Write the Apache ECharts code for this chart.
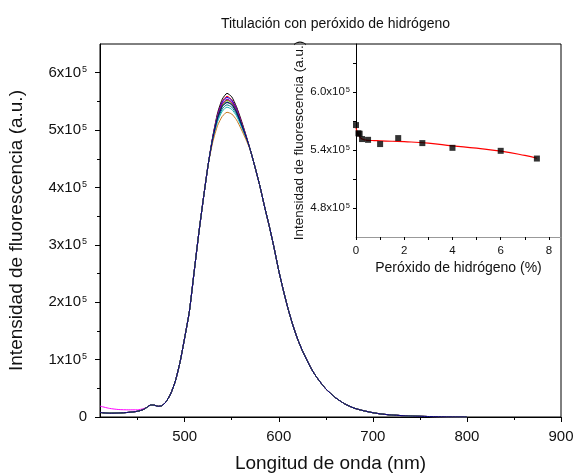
<!DOCTYPE html>
<html>
<head>
<meta charset="utf-8">
<script src="https://cdn.jsdelivr.net/npm/echarts@6/dist/echarts.min.js"></script>
<style>html,body{margin:0;padding:0;background:#fff}#c{width:575px;height:474px}</style>
</head>
<body>
<div id="c"></div>
<script>
// ---- Main spectra (intensity in units of 10^5) ----
const wavelengths = [410,420,430,440,450,456,460,464,468,472,476,480,485,490,495,500,505,510,515,520,525,
  530,535,540,545,550,555,560,565,
  570,575,580,585,590,595,600,605,610,615,620,625,630,635,640,645,650,660,670,680,690,700,710,720,730,740,750,760,780,800];
const leftCommon  = [0.08,0.065,0.07,0.08,0.10,0.13,0.17,0.21,0.205,0.185,0.20,0.26,0.40,0.62,0.95,1.38,1.84,2.52,3.20,3.82,4.40];
const leftMagenta = [0.19,0.15,0.13,0.125,0.125,0.145,0.17,0.215,0.205,0.19,0.20,0.26,0.40,0.62,0.95,1.38,1.84,2.52,3.20,3.82,4.40];
const rightCommon = [4.64,4.34,4.02,3.66,3.32,2.95,2.55,2.20,1.88,1.60,1.36,1.16,0.99,0.83,0.70,0.59,0.49,0.34,0.23,0.155,0.11,0.075,0.05,0.035,0.025,0.017,0.012,0.008,0.004,0.002];
// peak region 530..565 nm, one per spectrum
const peakBlack   = [4.90,5.30,5.54,5.64,5.58,5.41,5.18,4.92];
const peakRed     = [4.89,5.27,5.50,5.59,5.53,5.38,5.16,4.91];
const peakBlue    = [4.89,5.26,5.49,5.57,5.52,5.37,5.15,4.91];
const peakMagenta = [4.88,5.24,5.45,5.53,5.48,5.34,5.13,4.90];
const peakOlive   = [4.87,5.23,5.44,5.52,5.47,5.33,5.13,4.90];
const peakNavy    = [4.86,5.21,5.41,5.48,5.44,5.31,5.11,4.89];
const peakPurple  = [4.88,5.24,5.46,5.54,5.49,5.35,5.14,4.90];
const peakGreen   = [4.87,5.22,5.42,5.49,5.45,5.32,5.12,4.89];
const peakDkCyan  = [4.85,5.18,5.37,5.44,5.40,5.28,5.09,4.88];
const peakCyan    = [4.84,5.15,5.33,5.40,5.36,5.25,5.07,4.87];
const peakOrange  = [4.80,5.08,5.24,5.31,5.28,5.18,5.02,4.84];

const spectra = [
  {color:'#000000', left:leftCommon,  peak:peakBlack},
  {color:'#FF0000', left:leftCommon,  peak:peakRed},
  {color:'#0000FF', left:leftCommon,  peak:peakBlue},
  {color:'#FF00FF', left:leftMagenta, peak:peakMagenta},
  {color:'#808000', left:leftCommon,  peak:peakOlive},
  {color:'#800080', left:leftCommon,  peak:peakPurple},
  {color:'#008000', left:leftCommon,  peak:peakGreen},
  {color:'#008080', left:leftCommon,  peak:peakDkCyan},
  {color:'#20B2B2', left:leftCommon,  peak:peakCyan},
  {color:'#C8781E', left:leftCommon,  peak:peakOrange},
  {color:'#000080', left:leftCommon,  peak:peakNavy}
];

// ---- Inset: peak intensity vs H2O2 (%) ----
const h2o2Pct   = [0, 0.1, 0.15, 0.25, 0.5, 1, 1.75, 2.75, 4, 6, 7.5];
const peakInt   = [5.66, 5.575, 5.57, 5.515, 5.507, 5.463, 5.525, 5.473, 5.424, 5.393, 5.313];
const fitX      = [0, 0.05, 0.1, 0.15, 0.2, 0.3, 0.4, 0.5, 0.75, 1, 1.5, 2, 3, 4, 5, 6, 7, 7.5];
const fitY      = [5.63, 5.59, 5.56, 5.54, 5.525, 5.51, 5.505, 5.502, 5.499, 5.497, 5.492, 5.488, 5.472, 5.445, 5.42, 5.39, 5.345, 5.316];

// ---- Ticks ----
const mainXTicks  = [500,600,700,800,900];
const mainXMinor  = [450,550,650,750,850];
const mainYTicks  = [0,1,2,3,4,5,6];
const mainYMinor  = [0.5,1.5,2.5,3.5,4.5,5.5];
const insetXTicks = [0,2,4,6,8];
const insetXMinor = [1,3,5,7];
const insetYLabels = [4.8,5.4,6.0];
const insetYTicks  = [4.8,5.1,5.4,5.7,6.0,6.3];

const FONT = '"Liberation Sans", Arial, sans-serif';
const TXT = '#111';

function sup(size, supSize) {
  return {
    b: {fontSize: size, fontFamily: FONT, color: TXT},
    s: {fontSize: supSize, fontFamily: FONT, color: TXT, verticalAlign: 'top', padding: [0,0,0,1]}
  };
}

const chart = echarts.init(document.getElementById('c'), null, {renderer: 'canvas'});

const series = spectra.map(s => {
  const vals = s.left.concat(s.peak, rightCommon);
  return {
    type: 'line',
    xAxisIndex: 0, yAxisIndex: 0,
    showSymbol: false,
    smooth: 0.2,
    lineStyle: {width: 1, color: s.color},
    itemStyle: {color: s.color},
    data: wavelengths.map((w, i) => [w, vals[i]])
  };
});

series.push({
  type: 'line', xAxisIndex: 2, yAxisIndex: 2,
  showSymbol: false, smooth: true,
  lineStyle: {width: 1.2, color: '#FF0000'},
  data: fitX.map((x, i) => [x, fitY[i]]),
  z: 3
});
series.push({
  type: 'scatter', xAxisIndex: 2, yAxisIndex: 2,
  symbol: 'rect', symbolSize: 6,
  itemStyle: {color: '#000'},
  data: h2o2Pct.map((x, i) => [x, peakInt[i]]),
  z: 4
});

const option = {
  animation: false,
  backgroundColor: '#fff',
  title: {
    text: 'Titulación con peróxido de hidrógeno',
    left: 330.5, top: 12, textAlign: 'center',
    textStyle: {fontFamily: FONT, fontSize: 14, fontWeight: 'normal', color: TXT}
  },
  grid: [
    {left: 100, top: 44, width: 461, height: 373, show: true, borderColor: '#000', borderWidth: 1, backgroundColor: 'transparent', outerBoundsMode: 'none', containLabel: false},
    {left: 356, top: 44, width: 205, height: 193, show: false, outerBoundsMode: 'none', containLabel: false}
  ],
  xAxis: [
    {
      type: 'value', gridIndex: 0, min: 410, max: 900,
      name: 'Longitud de onda (nm)', nameLocation: 'middle', nameGap: 37,
      nameTextStyle: {fontFamily: FONT, fontSize: 19, color: TXT},
      axisLine: {show: true, onZero: false, lineStyle: {color: '#000', width: 1}},
      axisTick: {show: true, inside: false, length: 5, customValues: mainXTicks, lineStyle: {color: '#000'}},
      axisLabel: {customValues: mainXTicks, margin: 12, fontFamily: FONT, fontSize: 15, color: TXT},
      splitLine: {show: false}
    },
    {
      type: 'value', gridIndex: 0, min: 410, max: 900, position: 'bottom',
      axisLine: {show: false},
      axisTick: {show: true, length: 3, customValues: mainXMinor, lineStyle: {color: '#000'}},
      axisLabel: {show: false}, splitLine: {show: false}
    },
    {
      type: 'value', gridIndex: 1, min: 0, max: 8.5,
      name: 'Peróxido de hidrógeno (%)', nameLocation: 'middle', nameGap: 24,
      nameTextStyle: {fontFamily: FONT, fontSize: 14, color: TXT},
      axisLine: {show: true, onZero: false, lineStyle: {color: '#999', width: 1}},
      axisTick: {show: true, length: 3, customValues: insetXTicks.concat(insetXMinor), lineStyle: {color: '#000'}},
      axisLabel: {customValues: insetXTicks, margin: 8, fontFamily: FONT, fontSize: 11.5, color: TXT},
      splitLine: {show: false}
    }
  ],
  yAxis: [
    {
      type: 'value', gridIndex: 0, min: 0, max: 6.5,
      name: 'Intensidad de fluorescencia (a.u.)', nameLocation: 'middle', nameGap: 74,
      nameTextStyle: {fontFamily: FONT, fontSize: 19, color: TXT},
      axisLine: {show: true, onZero: false, lineStyle: {color: '#000', width: 1}},
      axisTick: {show: true, length: 5, customValues: mainYTicks, lineStyle: {color: '#000'}},
      axisLabel: {
        customValues: mainYTicks, margin: 13,
        formatter: v => v === 0 ? '{b|0}' : '{b|' + v + 'x10}{s|5}',
        rich: sup(15, 9)
      },
      splitLine: {show: false}
    },
    {
      type: 'value', gridIndex: 0, min: 0, max: 6.5, position: 'left',
      axisLine: {show: false},
      axisTick: {show: true, length: 3, customValues: mainYMinor, lineStyle: {color: '#000'}},
      axisLabel: {show: false}, splitLine: {show: false}
    },
    {
      type: 'value', gridIndex: 1, min: 4.5, max: 6.5,
      name: 'Intensidad de fluorescencia (a.u.)', nameLocation: 'middle', nameGap: 49,
      nameTextStyle: {fontFamily: FONT, fontSize: 13.5, color: TXT},
      axisLine: {show: true, onZero: false, lineStyle: {color: '#000', width: 1}},
      axisTick: {show: true, length: 3, customValues: insetYTicks, lineStyle: {color: '#000'}},
      axisLabel: {
        customValues: insetYLabels, margin: 6,
        formatter: v => '{b|' + v.toFixed(1) + 'x10}{s|5}',
        rich: sup(11.5, 7.5)
      },
      splitLine: {show: false}
    }
  ],
  series: series
};

chart.setOption(option);
</script>
</body>
</html>
